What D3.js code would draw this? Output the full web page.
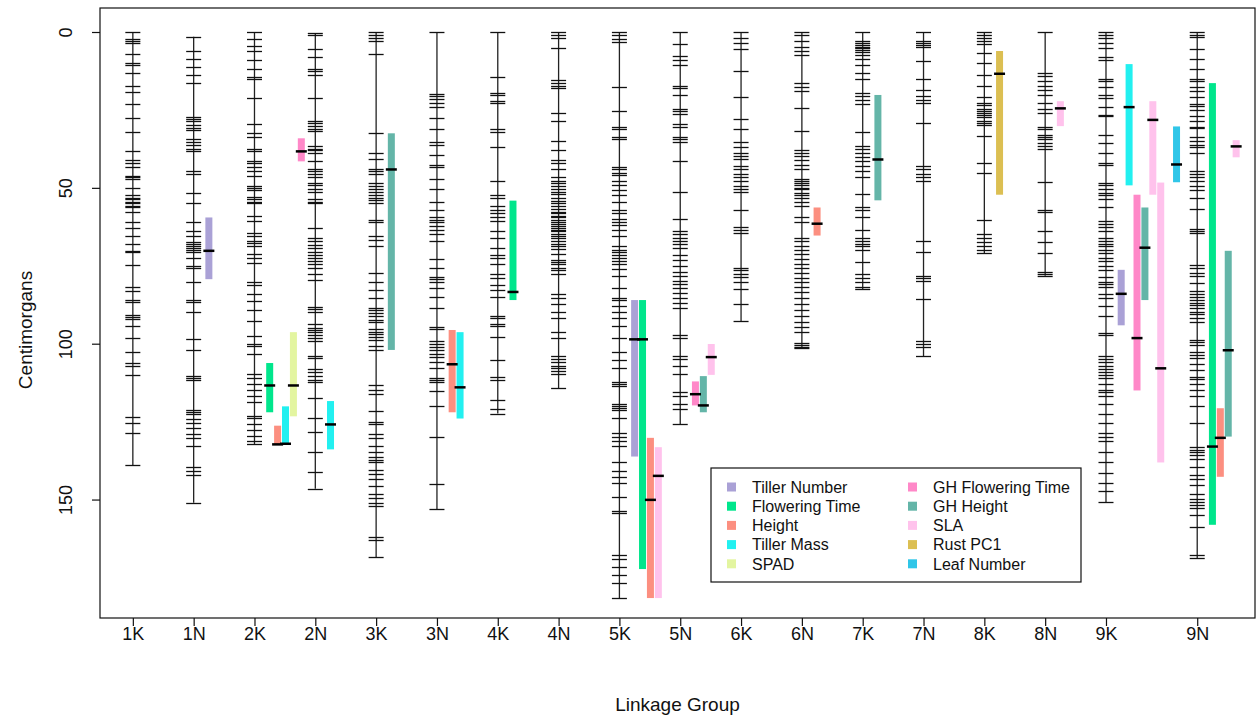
<!DOCTYPE html>
<html>
<head>
<meta charset="utf-8">
<script src="https://cdn.jsdelivr.net/npm/d3@7"></script>
<style>
  body { margin: 0; background: #fff; }
  svg { display: block; font-family: "Liberation Sans", Arial, sans-serif; }
</style>
</head>
<body>
<svg id="chart" width="1260" height="716"></svg>
<script>
// linkage groups and where they sit on the x axis
const groups = ['1K','1N','2K','2N','3K','3N','4K','4N','5K','5N','6K','6N','7K','7N','8K','8N','9K','9N']
const groupPos = [1,2,3,4,5,6,7,8,9,10,11,12,13,14,15,16,17,18.5]

// marker positions (cM) for each group, first and last = ends of the group
const m1K = [0,2.2,2.8,3.5,7.1,9.9,10.6,13.1,17.4,19.3,23.2,27.6,32.1,38.3,41.2,42.1,43.2,46.1,46.6,47.3,49.9,52.4,53.1,53.7,54.4,55,55.7,56.3,57.6,60.8,62.8,65.3,67.9,70.1,70.5,74.7,81.8,83,86,86.6,90.9,91.4,92,94.3,98.2,102.7,106.3,107,110.1,123.6,125.3,128.7,139]
const m1N = [1.5,6.1,8.6,11.2,13.8,16.4,27.3,28,28.6,29.9,30.9,31.6,34.4,35.3,36.3,37.4,38.3,44.7,45.4,51.5,54.8,60.8,64,65.3,67.3,67.9,68.6,69.2,69.8,70.5,72.4,75,75.6,80.2,86,86.6,89.8,98.6,102,110.4,111.1,111.7,121.4,122,122.7,124,125.5,127.2,128.9,130.4,132.7,139.4,140.7,142,151]
const m2K = [0,2.2,4.4,6.1,9,11.9,14.4,15.1,21.3,29.6,32.5,33.8,37.6,38.3,41.5,42.1,43.4,44.7,46.3,49.5,50.1,50.8,52.8,53.5,54.4,55,58.9,60.6,64.4,65.3,67,67.7,68.6,71.1,72.4,74.1,80.2,81.2,84,86.3,89.2,92.7,97.6,100.1,100.8,103.4,109.8,111.1,113,114.7,116.9,118.8,123.1,123.7,125.9,127.8,129.5,131.1,132.3]
const m2N = [0.3,0.9,5.4,8,11.9,12.5,13.8,21.3,28.4,29.3,30.2,31.2,31.8,36.6,37.4,37.9,38.7,41.5,43.8,44.7,45.4,46.6,48.6,49.2,50.5,51.2,53.7,54.4,55,62.8,66,67,68.3,69.2,70.5,71.4,72.4,73.5,74.4,75.6,77.6,79.5,88.1,88.9,89.8,93.7,95,95.6,96.3,97.2,98.2,99.2,104,104.6,108.2,109.1,110.4,111.7,112.4,117.3,123.7,128.2,134.7,141.1,146.5]
const m3K = [0,0.9,1.8,2.8,7.1,32.5,38.9,40.9,44.1,44.7,45.6,48.6,49.5,50.5,51.4,52.4,53.1,54,54.8,60.2,60.8,65.3,66.6,68.6,77.3,80.2,82.7,85.3,88.5,89.2,90.1,91.1,92.4,93,95.4,96.3,96.9,97.9,98.8,100.8,102.1,113.4,114.7,116.2,121.6,125,125.9,128.9,130.2,132.7,134.9,136.2,137.2,138.1,140.5,141.8,143.3,145.6,148.2,149.5,151,152.1,162,163,168.4]
const m3N = [0,19.8,20.6,21.5,22.8,24.1,27.6,31.2,35.3,36.1,39.6,42.8,43.4,47,50.5,54.4,57,59.5,60.2,61.1,62.1,63.4,64.9,67,72.7,75.6,78.6,79.1,80.2,82.1,85.1,88.5,94.6,95.4,99.2,100.1,101,102.1,103.4,104.4,105.9,107.9,111.1,111.7,112.4,115.3,120.1,129.8,145,153]
const m4K = [0,14.4,19.6,20.2,22.2,22.8,31.2,32.1,37,47.9,52.4,53.1,55.7,57,58.2,59.5,60.6,63.7,66,69.2,71.4,72.4,74.4,77.6,78.9,81.2,82.7,85.1,91.1,91.8,93.7,94.3,97.9,105.3,110.8,111.7,118.2,121.1,122.4]
const m4N = [0,0.9,1.8,5.2,15.5,16.4,17.3,18,26,28.4,35.1,37.9,41.2,42.1,44.1,46.6,47.7,48.6,49.5,50.3,51.2,52.1,53.1,54.1,55,55.9,56.7,57.6,58.2,58.9,59.5,60.2,60.8,61.5,62.1,62.8,63.4,64,64.7,65.3,66,67,67.9,68.8,69.6,71.1,73.1,73.7,74.4,75.6,76.5,77.6,84,85.3,87.2,89.8,91.8,96.3,98.2,104,104.9,105.9,107,107.9,108.8,109.8,114.3]
const m5K = [0,0.9,2.2,3.2,17.7,25.4,30.5,31.2,33.8,34.4,43.4,44.1,45.1,46,47.7,49.2,50.8,52.4,54.4,57,58.2,59.9,60.8,61.9,63.4,65.3,68.8,69.8,70.5,71.4,72.4,73.5,74.4,76,78.2,82.1,85.3,86,87.9,89.8,91.8,94.3,98.2,102.7,105.3,107.9,112.4,113,113.7,119.5,120.1,120.7,121.4,123.9,128.5,129.8,131.1,132.7,138.1,140.7,142.7,144.6,149.1,153.6,154.3,167.8,169.1,171.6,174.2,176.8,181.6]
const m5N = [0,3.9,7.7,9,10.6,17.3,18,20.2,24.7,25.4,26.3,29.6,30.5,33.8,34.4,35.3,41.5,51.2,59.9,64,64.9,66,67,67.9,69.2,71.4,73.1,75,76.9,78.2,79.8,80.8,82.1,83.8,85.3,86.9,88.5,97.2,98.2,104,105,107.2,109.8,115.6,116.9,119.5,121.1,125.9]
const m6K = [0,1.8,3.5,5.4,12.5,20.9,28,31.2,35.3,37,38.9,39.9,40.9,43,44.1,45.4,46.6,47.9,49.5,50.5,51.2,57,62.4,63.4,64.4,75.6,76.5,77.6,78.6,80.2,82.5,87.2,92.8]
const m6N = [0,0.9,2.8,4.8,6.1,7.3,16.4,17.7,18.9,24.5,31.8,37.9,38.9,39.9,41.2,42.8,44.1,47.3,47.9,48.6,49.2,49.9,50.5,51.5,52.4,53.4,54.4,55.7,59.5,61.1,66,67,68.6,69.8,71.1,72.7,74.4,75.6,77.3,78.9,80.2,81.7,83.4,85.3,87.2,89.2,91.1,93,94.6,96.3,99.7,100.5,101,101.5]
const m7K = [0,2.8,3.5,4.1,4.8,5.2,5.7,6.4,7.3,8.6,10.6,13.1,15.1,19.6,20.6,21.9,23.2,32.2,36.6,37.6,38.7,40.2,41.5,43,44.7,46.6,52.1,56.3,57,59.5,63.4,66,67,67.9,68.8,69.8,73.7,77.6,78.9,80.2,81.7,82.5]
const m7N = [0,2.8,3.5,4.1,4.8,9.3,15.1,18.6,20.6,21.9,22.8,29.3,43,44.1,45.4,46.6,47.7,66.9,70.5,78.2,78.9,79.9,85.6,99.2,100.1,101,104]
const m8K = [0,0.9,1.8,2.8,3.9,6.7,9.9,13.8,17.3,20.9,22.8,23.5,24.7,25.4,26,26.7,27.3,28.4,29.3,29.9,33.5,42.1,45.1,60.2,64.7,66,67.3,68.6,69.8,70.9]
const m8N = [0,13.1,14.2,15.7,17.3,18.6,20.2,22.8,24.7,26,30.5,31.2,33.1,33.8,34.4,35.7,36.6,37.6,48.2,57,57.6,63.7,67.3,70.9,76.9,77.6,78.2]
const m9K = [0,0.9,1.8,3.5,5.2,8,9,15.1,15.7,17.7,20.2,21.3,24.1,26.7,27.1,33.1,35.7,38.9,42.1,42.8,48.6,49.2,50.3,51.5,52.4,53.7,56.3,60.6,61.5,62.4,64,66,67,67.9,68.8,69.8,70.9,72.4,73.5,75,76.5,78.6,80.2,80.8,81.7,84,85.3,87.9,91.1,96.6,97.2,104,104.9,105.9,107.2,108.2,109.1,110.1,111.1,113,114.7,115.6,116.9,119.5,122.4,125.3,128.5,129.8,131.1,134.9,137.9,141.4,144.6,147.4,150.8]
const m9N = [0,0.9,1.5,5.4,8.6,11.9,15.1,15.7,17.7,18.9,20.9,23.2,23.8,25,27.1,28.6,30.5,30.9,33.8,35.1,36.1,37,38.9,44.7,45.6,46.6,47.7,49.5,50.8,53.1,56.7,63.1,63.7,64.4,74.7,75.6,77.3,78.2,80.4,83,84,85.1,86,86.9,87.6,88.5,89.8,90.5,91.8,93,98.8,99.5,100.5,102.7,103.6,104.6,106.6,108.5,110.8,111.3,113,114.9,116.9,120.1,125.3,133.2,134,134.9,135.6,136.9,139.4,142,143.3,145.2,148.2,149.7,150.8,151.7,152.6,154.9,158.8,167.8,168.8]
const markerLists = [m1K,m1N,m2K,m2N,m3K,m3N,m4K,m4N,m5K,m5N,m6K,m6N,m7K,m7N,m8K,m8N,m9K,m9N]

// traits and their colours (legend order)
const traits = ['Tiller Number','Flowering Time','Height','Tiller Mass','SPAD','GH Flowering Time','GH Height','SLA','Rust PC1','Leaf Number']
const traitColors = ['#aaa1d6','#00e68c','#fc8f80','#22f0f0','#e3f5a0','#ff88c8','#64b5a8','#ffc2ec','#dcbf52','#30c6e8']

// QTL: group, trait, slot next to the group, start, end, peak (cM)
const qtls = [
	['1N','Tiller Number',0,59.5,79.3,70.2],
	['2K','Flowering Time',0,106.2,122,113.4],
	['2K','Height',1,126.3,132.3,132.3],
	['2K','Tiller Mass',2,120.1,132.1,132.1],
	['2K','SPAD',3,96.3,123.3,113.4],
	['2K','GH Flowering Time',4,34.1,41.5,38.3],
	['2N','Tiller Mass',0,118.4,133.9,125.9],
	['3K','GH Height',0,32.5,102,44.1],
	['3N','Height',0,95.6,122,106.6],
	['3N','Tiller Mass',1,96.3,124,114],
	['4K','Flowering Time',0,54.1,86,83.4],
	['5K','Tiller Number',0,86,136.2,98.6],
	['5K','Flowering Time',1,86,172.3,98.6],
	['5K','Height',2,130.2,181.6,150.1],
	['5K','SLA',3,133.2,181.6,142.4],
	['5N','GH Flowering Time',0,112.1,119.8,116.2],
	['5N','GH Height',1,110.4,122,119.8],
	['5N','SLA',2,100.1,110,104.3],
	['6N','Height',0,56.3,65.3,61.5],
	['7K','GH Height',0,20.2,54,40.9],
	['8K','Rust PC1',0,6.1,52.2,13.4],
	['8N','SLA',0,22.2,30.2,24.5],
	['9K','Tiller Number',0,76.3,94.1,84],
	['9K','Tiller Mass',1,10.3,49.2,24.1],
	['9K','GH Flowering Time',2,52.2,115,98.2],
	['9K','GH Height',3,56.3,86,69.2],
	['9K','SLA',4,22.2,52.2,28.2],
	['9K','SLA',5,48.3,138.1,107.9],
	['9K','Leaf Number',7,30.3,48.2,42.5],
	['9N','Flowering Time',0,16.4,158.1,133],
	['9N','Height',1,120.7,142.7,130.2],
	['9N','GH Height',2,70.2,129.8,102.1],
	['9N','SLA',3,34.7,40.2,36.7]
]

const yTicks = [0,50,100,150]

const $svg = d3.select('#chart')
const plot = {left: 100, right: 1255, top: 8, bottom: 618}

const scaleX = d3.scaleLinear().domain([0.46, 19.45]).range([plot.left, plot.right])
const scaleY = d3.scaleLinear().domain([-7.7, 188]).range([plot.top, plot.bottom])
const colorOf = d3.scaleOrdinal().domain(traits).range(traitColors)
const posOf = d3.scaleOrdinal().domain(groups).range(groupPos)
const slotX = (g, s) => scaleX(posOf(g) + 0.25 + 0.13 * s)

const groupData = groups.map((g, i) => ({name: g, pos: groupPos[i], markers: markerLists[i]}))

// chromosomes
const $g = $svg.append('g').attr('class', 'g-viz')
const $group = $g.selectAll('g.group')
	.data(groupData)
	.join('g')
	.attr('class', 'group')
	.attr('transform', d => `translate(${scaleX(d.pos)},0)`)

$group.append('line')
	.attr('y1', d => scaleY(d3.min(d.markers)))
	.attr('y2', d => scaleY(d3.max(d.markers)))
	.attr('stroke', '#222')
	.attr('stroke-width', 1.3)

$group.selectAll('line.marker')
	.data(d => d.markers)
	.join('line')
	.attr('class', 'marker')
	.attr('x1', -7.5)
	.attr('x2', 7.5)
	.attr('y1', d => Math.round(scaleY(d)) + 0.5)
	.attr('y2', d => Math.round(scaleY(d)) + 0.5)
	.attr('stroke', '#111')
	.attr('stroke-width', 1.3)

// QTL bars
const barW = 7
$g.selectAll('rect.qtl')
	.data(qtls)
	.join('rect')
	.attr('class', 'qtl')
	.attr('x', d => slotX(d[0], d[2]) - barW / 2)
	.attr('width', barW)
	.attr('y', d => scaleY(d[3]))
	.attr('height', d => scaleY(d[4]) - scaleY(d[3]))
	.attr('fill', d => colorOf(d[1]))

$g.selectAll('line.peak')
	.data(qtls)
	.join('line')
	.attr('class', 'peak')
	.attr('x1', d => slotX(d[0], d[2]) - 5.5)
	.attr('x2', d => slotX(d[0], d[2]) + 5.5)
	.attr('y1', d => scaleY(d[5]))
	.attr('y2', d => scaleY(d[5]))
	.attr('stroke', '#000')
	.attr('stroke-width', 2.5)

// box
$svg.append('rect')
	.attr('x', plot.left)
	.attr('y', plot.top)
	.attr('width', plot.right - plot.left)
	.attr('height', plot.bottom - plot.top)
	.attr('fill', 'none')
	.attr('stroke', '#111')
	.attr('stroke-width', 1.2)

// axes
const $gAxes = $svg.append('g').attr('class', 'g-axes')

const $yAxis = $gAxes.append('g')
	.attr('transform', `translate(${plot.left},0)`)
	.call(d3.axisLeft(scaleY).tickValues(yTicks).tickSize(8))
$yAxis.select('.domain').remove()
$yAxis.selectAll('text')
	.attr('x', null)
	.attr('dy', null)
	.attr('text-anchor', 'middle')
	.attr('transform', 'translate(-28,0) rotate(-90)')
	.attr('fill', '#111')
	.style('font-size', '18px')
	.style('font-family', '"Liberation Sans", Arial, sans-serif')

const $xAxis = $gAxes.append('g')
	.attr('transform', `translate(0,${plot.bottom})`)
	.call(d3.axisBottom(scaleX).tickValues(groupPos).tickFormat((d, i) => groups[i]).tickSize(8).tickPadding(1))
$xAxis.select('.domain').remove()
$xAxis.selectAll('text')
	.attr('fill', '#111')
	.style('font-size', '18px')
	.style('font-family', '"Liberation Sans", Arial, sans-serif')
$gAxes.selectAll('.tick line').attr('stroke', '#111').attr('stroke-width', 1.2)

$svg.append('text')
	.attr('x', (plot.left + plot.right) / 2)
	.attr('y', 711)
	.attr('text-anchor', 'middle')
	.style('font-size', '19px')
	.attr('fill', '#111')
	.text('Linkage Group')

$svg.append('text')
	.attr('transform', 'translate(32,330) rotate(-90)')
	.attr('text-anchor', 'middle')
	.style('font-size', '19px')
	.attr('fill', '#111')
	.text('Centimorgans')

// legend
const legend = {x: 711, y: 468, w: 370, h: 114}
const $legend = $svg.append('g').attr('class', 'legend')
$legend.append('rect')
	.attr('x', legend.x)
	.attr('y', legend.y)
	.attr('width', legend.w)
	.attr('height', legend.h)
	.attr('fill', '#fff')
	.attr('stroke', '#111')
	.attr('stroke-width', 1.2)

const $item = $legend.selectAll('g.item')
	.data(traits)
	.join('g')
	.attr('class', 'item')
	.attr('transform', (d, i) => `translate(${legend.x + (i < 5 ? 16 : 197)},${legend.y + 19 + (i % 5) * 19.2})`)

$item.append('rect')
	.attr('x', 0)
	.attr('y', -4.5)
	.attr('width', 9)
	.attr('height', 9)
	.attr('fill', d => colorOf(d))

$item.append('text')
	.attr('x', 25)
	.attr('dy', '0.36em')
	.style('font-size', '16px')
	.attr('fill', '#111')
	.text(d => d)
</script>
</body>
</html>
